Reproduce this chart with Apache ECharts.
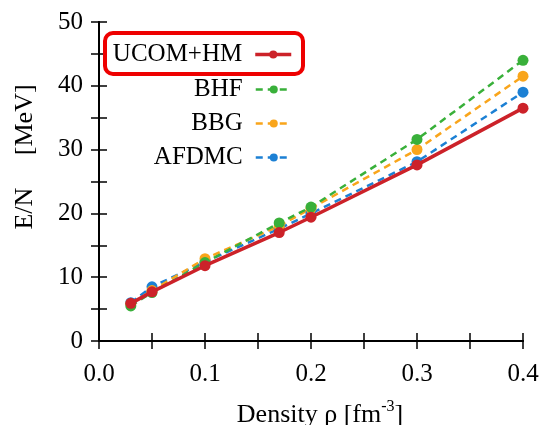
<!DOCTYPE html>
<html>
<head>
<meta charset="utf-8">
<script src="https://cdn.jsdelivr.net/npm/echarts@6/dist/echarts.min.js"></script>
<style>
  html, body { margin: 0; padding: 0; background: #fff; }
  #main { width: 541px; height: 425px; }
</style>
</head>
<body>
<div id="main"></div>
<script>
var density = [0.03, 0.05, 0.1, 0.17, 0.2, 0.3, 0.4];
var ucomHM = [5.9, 7.7, 11.8, 17.0, 19.4, 27.6, 36.5];
var bhf = [5.5, 7.6, 12.3, 18.5, 21.0, 31.6, 44.0];
var bbg = [5.8, 7.9, 12.9, 18.0, 20.8, 30.0, 41.5];
var afdmc = [6.0, 8.5, 12.4, 17.6, 20.0, 28.1, 39.0];
var xTicks = ['0.0', '0.1', '0.2', '0.3', '0.4'];
var yTicks = ['0', '10', '20', '30', '40', '50'];

var serif = 'Liberation Serif';

function pairs(ys) {
    return density.map(function (x, i) { return [x, ys[i]]; });
}

function mkSeries(name, ys, color, dashed, width) {
    return {
        name: name,
        type: 'line',
        data: pairs(ys),
        symbol: 'circle',
        symbolSize: 11,
        color: color,
        lineStyle: { color: color, width: width, type: dashed ? [7, 5] : 'solid' },
        itemStyle: { color: color },
        z: dashed ? 2 : 3
    };
}

function mkLegend(name, top) {
    return {
        data: [name],
        right: 243,
        top: top,
        orient: 'vertical',
        itemWidth: 36,
        itemHeight: 10,
        selectedMode: false,
        lineStyle: { width: 'inherit' },
        textStyle: { fontFamily: serif, fontSize: 25, color: '#000', padding: [0, 8, 0, 0] },
        align: 'right'
    };
}

// frame axes: ticks inside, labels only bottom and left
function frameX(pos, labels) {
    return {
        type: 'value',
        position: pos,
        min: 0, max: 0.4, interval: 0.1,
        axisLine: { lineStyle: { color: '#000', width: 2 } },
        axisTick: { inside: true, length: 8, lineStyle: { color: '#000', width: 1.5 } },
        minorTick: { show: true, splitNumber: 2, length: 8, lineStyle: { color: '#000', width: 1.5 } },
        axisLabel: {
            show: labels,
            fontFamily: serif, fontSize: 25, color: '#000', margin: 21,
            formatter: function (v) { return xTicks[Math.round(v * 10)]; }
        },
        splitLine: { show: false }
    };
}

function frameY(pos, labels) {
    return {
        type: 'value',
        position: pos,
        min: 0, max: 50, interval: 10,
        axisLine: { show: true, lineStyle: { color: '#000', width: 2 } },
        axisTick: { show: true, inside: true, length: 8, lineStyle: { color: '#000', width: 1.5 } },
        minorTick: { show: true, splitNumber: 2, length: 8, lineStyle: { color: '#000', width: 1.5 } },
        axisLabel: {
            show: labels,
            fontFamily: serif, fontSize: 25, color: '#000', margin: 16,
            formatter: function (v) { return yTicks[Math.round(v / 10)]; }
        },
        splitLine: { show: false }
    };
}

var chart = echarts.init(document.getElementById('main'));

var xBottom = frameX('bottom', true);
xBottom.name = 'Density ρ [fm{sup|-3}]';
xBottom.nameLocation = 'middle';
xBottom.nameGap = 58;
xBottom.nameTextStyle = {
    fontFamily: serif, fontSize: 26, color: '#000', padding: [0, 0, 0, 18],
    rich: { sup: { fontFamily: serif, fontSize: 16, color: '#000', padding: [0, 0, 16, 0] } }
};

var option = {
    animation: false,
    grid: { left: 99, right: 18, top: 22, bottom: 84, outerBoundsMode: 'none' },
    legend: [
        mkLegend('UCOM+HM', 37),
        mkLegend('BHF', 72),
        mkLegend('BBG', 106),
        mkLegend('AFDMC', 140)
    ],
    xAxis: [xBottom, frameX('top', false)],
    yAxis: [frameY('left', true), frameY('right', false)],
    graphic: [{
        type: 'rect',
        shape: { x: 105, y: 33, width: 198, height: 41, r: 8 },
        style: { fill: 'none', stroke: '#ee0000', lineWidth: 4 },
        z: 10
    }, {
        type: 'text',
        x: 25, y: 157,
        rotation: Math.PI / 2,
        style: {
            text: 'E/N     [MeV]',
            font: '26px "Liberation Serif"',
            fill: '#000',
            align: 'center',
            verticalAlign: 'middle'
        }
    }],
    series: [
        mkSeries('AFDMC', afdmc, '#1c80d4', true, 2.5),
        mkSeries('BBG', bbg, '#f9a51b', true, 2.5),
        mkSeries('BHF', bhf, '#39b03a', true, 2.5),
        mkSeries('UCOM+HM', ucomHM, '#cc2229', false, 3.5)
    ]
};

chart.setOption(option);
</script>
</body>
</html>
